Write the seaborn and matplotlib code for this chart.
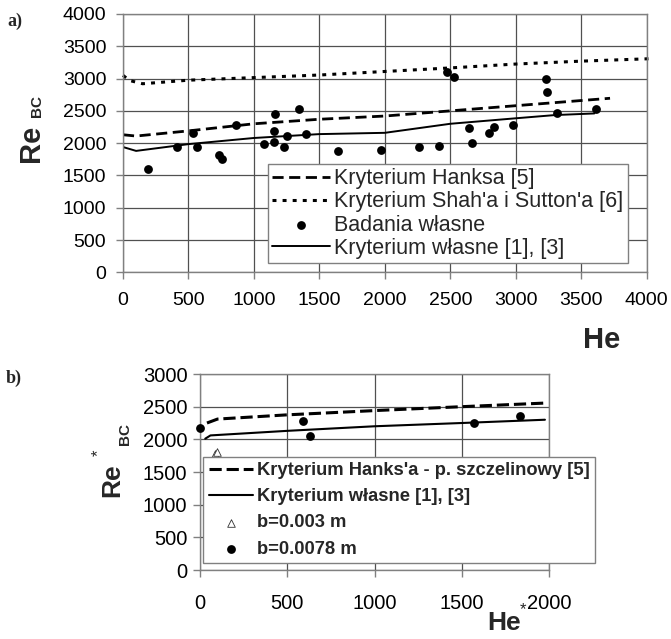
import matplotlib
matplotlib.use("Agg")
import matplotlib.pyplot as plt
import seaborn as sns

# --- panel a) data ---
he_meas = [188, 416, 531, 563, 731, 759, 861, 1074, 1150, 1155, 1160, 1229, 1252, 1348, 1401,
           1640, 1967, 2262, 2413, 2472, 2528, 2645, 2663, 2798, 2836, 2981, 3229, 3241, 3313, 3611]
re_meas = [1599, 1944, 2161, 1940, 1816, 1759, 2280, 1981, 2022, 2192, 2450, 1944, 2110, 2523, 2146,
           1880, 1893, 1944, 1960, 3105, 3018, 2238, 1997, 2152, 2245, 2280, 2992, 2796, 2461, 2528]

he_hanks = [0, 100, 500, 1000, 1500, 2000, 2500, 3000, 3500, 3720]
re_hanks = [2130, 2110, 2190, 2300, 2370, 2420, 2500, 2580, 2660, 2695]

he_shah = [0, 50, 150, 500, 1000, 1500, 2000, 2500, 3000, 3500, 4060]
re_shah = [3050, 2970, 2920, 2975, 3015, 3055, 3110, 3165, 3225, 3270, 3310]

he_own = [0, 100, 500, 1000, 1500, 2000, 2500, 3000, 3300, 3600]
re_own = [1940, 1880, 1985, 2080, 2140, 2160, 2300, 2385, 2435, 2460]

# --- panel b) data ---
he_b003 = [86, 99]
re_b003 = [1780, 1805]
he_b0078 = [0, 592, 631, 1567, 1831]
re_b0078 = [2170, 2280, 2055, 2250, 2350]

he_hanks_b = [40, 100, 500, 1000, 1500, 1975]
re_hanks_b = [2250, 2310, 2375, 2440, 2500, 2555]
he_own_b = [30, 60, 500, 1000, 1500, 1975]
re_own_b = [2010, 2060, 2130, 2200, 2250, 2300]

top_ticks = [0, 500, 1000, 1500, 2000, 2500, 3000, 3500, 4000]
bot_xticks = [0, 500, 1000, 1500, 2000]
bot_yticks = [0, 500, 1000, 1500, 2000, 2500, 3000]

sns.set_style("white")
plt.rcParams['font.family'] = ['Liberation Sans', 'DejaVu Sans']

GRAY = '#808080'
W, H = 671, 639
fig = plt.figure(figsize=(6.71, 6.39), dpi=100)


def style_axes(ax):
    ax.grid(True, color='#505050', lw=0.9)
    ax.set_axisbelow(True)
    for s in ax.spines.values():
        s.set_color(GRAY)
        s.set_linewidth(1)
    ax.tick_params(direction='out', length=5, width=1, color=GRAY,
                   bottom=True, left=True, labelcolor='black')
    ax.set_xlabel("")
    ax.set_ylabel("")


# ---------------- panel a) ----------------
ax1 = fig.add_axes([123 / W, 1 - 272.3 / H, 523.7 / W, 258.3 / H])
sns.lineplot(x=he_hanks, y=re_hanks, ax=ax1, color='black', lw=2.0,
             linestyle=(0, (4, 2)), errorbar=None, label="Kryterium Hanksa [5]")
sns.lineplot(x=he_shah, y=re_shah, ax=ax1, color='black', lw=2.2,
             linestyle=(0, (1.3, 2.0)), errorbar=None, clip_on=False,
             label="Kryterium Shah'a i Sutton'a [6]")
sns.scatterplot(x=he_meas, y=re_meas, ax=ax1, color='black', s=40,
                edgecolor='black', linewidth=0, label="Badania własne", zorder=3)
sns.lineplot(x=he_own, y=re_own, ax=ax1, color='black', lw=1.4,
             errorbar=None, label="Kryterium własne [1], [3]")
ax1.set_xlim(0, 4000)
ax1.set_ylim(0, 4000)
ax1.set_xticks(top_ticks)
ax1.set_yticks(top_ticks)
style_axes(ax1)
ax1.tick_params(axis='x', pad=9, labelsize=14)
ax1.tick_params(axis='y', pad=7, labelsize=14)
leg1 = ax1.legend(loc='lower right', bbox_to_anchor=(0.964, 0.036), borderaxespad=0,
                  fontsize=15.5, frameon=True, fancybox=False, framealpha=1,
                  edgecolor=GRAY, handlelength=2.7, handletextpad=0.2,
                  labelspacing=0.1, borderpad=0.2)
leg1.get_frame().set_linewidth(1)

fig.text(31 / W, 1 - 143 / H, "Re", rotation=90, ha='center', va='center',
         fontsize=21, fontweight='bold')
fig.text(37 / W, 1 - 106 / H, "BC", rotation=90, ha='center', va='center',
         fontsize=11, fontweight='bold')
fig.text(602 / W, 1 - 340 / H, "He", ha='center', va='center',
         fontsize=21, fontweight='bold')
fig.text(7 / W, 1 - 21 / H, "a)", ha='left', va='center', fontsize=13,
         fontweight='bold', family='Liberation Serif')

# ---------------- panel b) ----------------
ax2 = fig.add_axes([200 / W, 1 - 570 / H, 349.3 / W, 196 / H])
sns.lineplot(x=he_hanks_b, y=re_hanks_b, ax=ax2, color='black', lw=2.2,
             linestyle=(0, (4, 1.6)), errorbar=None,
             label="Kryterium Hanks'a - p. szczelinowy [5]")
sns.lineplot(x=he_own_b, y=re_own_b, ax=ax2, color='black', lw=1.5,
             errorbar=None, label="Kryterium własne [1], [3]")
sns.scatterplot(x=he_b003, y=re_b003, ax=ax2, marker='^', s=30, color='white',
                edgecolor='#303030', linewidth=0.6, label="b=0.003 m", zorder=3)
sns.scatterplot(x=he_b0078, y=re_b0078, ax=ax2, color='black', s=40,
                edgecolor='black', linewidth=0, label="b=0.0078 m", zorder=3,
                clip_on=False)
ax2.set_xlim(0, 2000)
ax2.set_ylim(0, 3000)
ax2.set_xticks(bot_xticks)
ax2.set_yticks(bot_yticks)
style_axes(ax2)
ax2.tick_params(axis='x', pad=12, labelsize=14.5)
ax2.tick_params(axis='y', pad=4, labelsize=14.5)
leg2 = ax2.legend(loc='lower left', bbox_to_anchor=(0.0086, 0.0357), borderaxespad=0,
                  prop={'family': 'Liberation Sans', 'weight': 'bold', 'size': 13.2},
                  frameon=True, fancybox=False, framealpha=1, edgecolor=GRAY,
                  handlelength=2.4, handletextpad=0.25, labelspacing=0.5,
                  borderpad=0.3)
leg2.get_frame().set_linewidth(1)

fig.text(112 / W, 1 - 480 / H, "Re", rotation=90, ha='center', va='center',
         fontsize=19, fontweight='bold')
fig.text(98 / W, 1 - 453 / H, "*", rotation=90, ha='center', va='center',
         fontsize=12)
fig.text(125 / W, 1 - 434 / H, "BC", rotation=90, ha='center', va='center',
         fontsize=11, fontweight='bold')
fig.text(504 / W, 1 - 623 / H, "He", ha='center', va='center',
         fontsize=19, fontweight='bold')
fig.text(523 / W, 1 - 610 / H, "*", ha='center', va='center', fontsize=12)
fig.text(6 / W, 1 - 378 / H, "b)", ha='left', va='center', fontsize=13,
         fontweight='bold', family='Liberation Serif')

fig.savefig("out.png", dpi=100)
